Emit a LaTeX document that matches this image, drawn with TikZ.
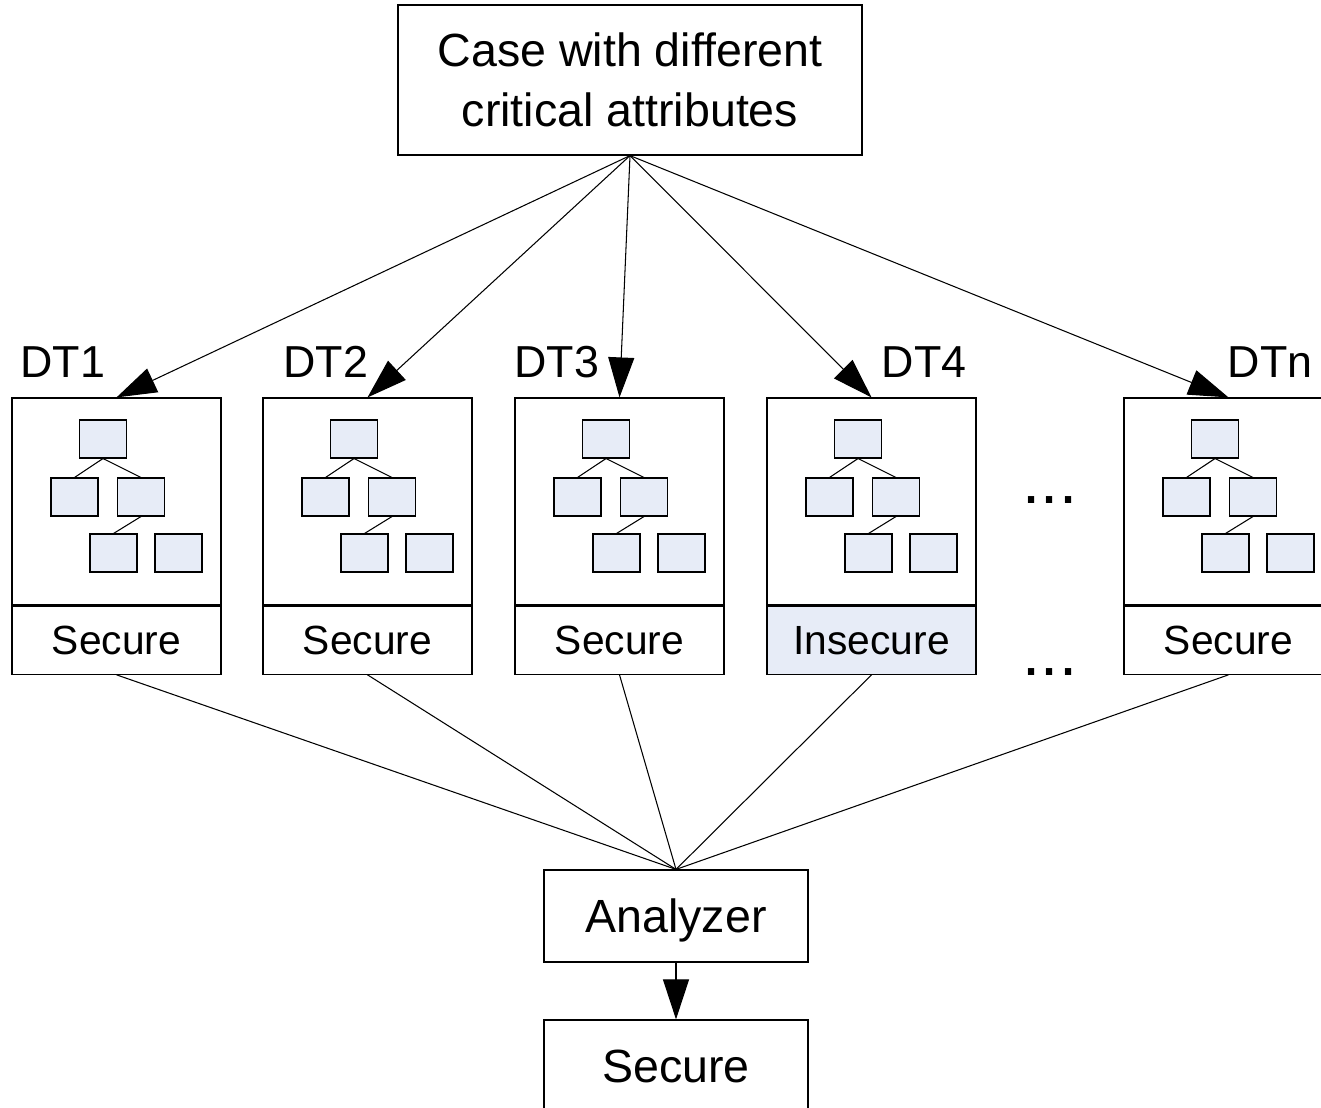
\documentclass[tikz,border=0pt]{standalone}
\usepackage{fontspec}
\setmainfont{Liberation Sans}
\usetikzlibrary{arrows.meta,positioning,calc}
\definecolor{leafblue}{RGB}{231,236,247}

\begin{document}
\begin{tikzpicture}[x=0.02cm,y=-0.02cm,line width=0.6pt,
        every node/.style={inner sep=0pt},
        bigfont/.style={font=\fontsize{26.5}{34}\selectfont},
        smallfont/.style={font=\fontsize{23.2}{28}\selectfont},
        box/.style={draw,line width=0.7pt,bigfont,text height=19pt,text depth=0pt},
        treebox/.style={draw,line width=0.7pt,minimum width=4.18cm,minimum height=4.14cm},
        verdict/.style={draw,line width=0.7pt,smallfont,minimum width=4.18cm,minimum height=1.36cm,text height=16.6pt,text depth=0pt},
        leaf/.style={draw,fill=leafblue,minimum width=0.94cm,minimum height=0.76cm},
        dtlabel/.style={font=\fontsize{25.5}{30}\selectfont},
        arr/.style={-{Triangle[length=0.8cm,width=0.52cm]}}]
        \useasboundingbox (0,0) rectangle (1321,1107);
        \clip (0,0) rectangle (1321,1107);

        \node[draw,line width=0.7pt,bigfont,align=center,minimum width=9.28cm,minimum height=3cm] (case) at (630,80) {Case with different\\critical attributes};

        % decision trees
        \foreach \i/\x/\res/\col in {1/12/Secure/white,2/263/Secure/white,3/515/Secure/white,4/767/Insecure/leafblue,5/1124/Secure/white}{
            \node[treebox] (t\i) at (\x+104.5,501.5) {};
            \node[verdict,fill=\col,below=0pt of t\i] (v\i) {\res};
            \node[leaf] (r\i) at (\x+91,439) {};
            \node[leaf] (a\i) at (\x+62.5,497) {};
            \node[leaf] (b\i) at (\x+129,497) {};
            \node[leaf] (c\i) at (\x+101.5,553) {};
            \node[leaf] (d\i) at (\x+166.5,553) {};
            \draw (r\i.south) -- (a\i.north);
            \draw (r\i.south) -- (b\i.north);
            \draw (b\i.south) -- (c\i.north);
            \draw[arr] (case.south) -- (t\i.north);
        }

        \node[dtlabel,anchor=base west] (l1) at (20,377) {DT1};
        \node[dtlabel,anchor=base west] (l2) at (283,377) {DT2};
        \node[dtlabel,anchor=base west] (l3) at (514,377) {DT3};
        \node[dtlabel,anchor=base east] (l4) at (967,377) {DT4};
        \node[dtlabel,anchor=base east] (l5) at (1313,377) {DTn};

        \node[font=\fontsize{37}{40}\selectfont,anchor=base] (dots1) at (1050,503) {...};
        \node[font=\fontsize{37}{40}\selectfont,anchor=base] (dots2) at (1050,675) {...};

        \node[box,minimum width=5.28cm,minimum height=1.84cm] (an) at (676,916) {Analyzer};
        \node[box,minimum width=5.28cm,minimum height=1.84cm] (out) at (676,1066) {Secure};

        \foreach \i in {1,...,5}
            \draw (v\i.south) -- (an.north);
        \draw[arr] (an.south) -- (out.north);
    \end{tikzpicture}
\end{document}
